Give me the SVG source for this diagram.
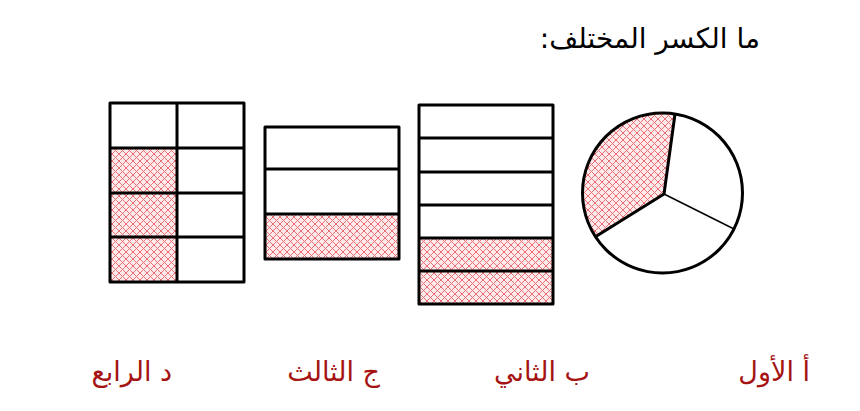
<svg xmlns="http://www.w3.org/2000/svg" width="860" height="411" viewBox="0 0 860 411">
<style>
.box{fill:none;stroke:#000;stroke-width:3;stroke-linejoin:round}
.ln{stroke:#000;stroke-width:3}
.hatch{fill:url(#hatch)}
.lbl{font-family:"DejaVu Sans",sans-serif;font-size:27px;fill:#a51313}
.ttl{font-family:"DejaVu Sans",sans-serif;font-size:28px;fill:#000}
</style>
<defs>
<pattern id="hatch" width="7" height="7" patternUnits="userSpaceOnUse">
<rect width="7" height="7" fill="#fdeaea"/>
<path d="M0,0 L7,7 M7,0 L0,7" stroke="#ea6d76" stroke-width="1"/>
</pattern>
</defs>
<rect width="860" height="411" fill="#fff"/>
<text class="ttl" x="760" y="48" direction="rtl" text-anchor="start">ما الكسر المختلف:</text>

<g id="d-fourth">
<rect class="hatch" x="110" y="148" width="67" height="134"/>
<rect class="box" x="110" y="103" width="134" height="179"/>
<line class="ln" x1="177" y1="103" x2="177" y2="282"/>
<line class="ln" x1="110" y1="148" x2="244" y2="148"/>
<line class="ln" x1="110" y1="193" x2="244" y2="193"/>
<line class="ln" x1="110" y1="237" x2="244" y2="237"/>
</g>

<g id="c-third">
<rect class="hatch" x="265" y="214" width="134" height="45"/>
<rect class="box" x="265" y="127" width="134" height="132"/>
<line class="ln" x1="265" y1="169" x2="399" y2="169"/>
<line class="ln" x1="265" y1="214" x2="399" y2="214"/>
</g>

<g id="b-second">
<rect class="hatch" x="419" y="238" width="134" height="66"/>
<rect class="box" x="419" y="105" width="134" height="199"/>
<line class="ln" x1="419" y1="138" x2="553" y2="138"/>
<line class="ln" x1="419" y1="172" x2="553" y2="172"/>
<line class="ln" x1="419" y1="205" x2="553" y2="205"/>
<line class="ln" x1="419" y1="238" x2="553" y2="238"/>
<line class="ln" x1="419" y1="271" x2="553" y2="271"/>
</g>

<g id="a-first">
<path class="hatch" d="M664,194 L675,114 A80,80 0 0 0 595,237 Z"/>
<circle cx="662.5" cy="193" r="80" fill="none" stroke="#000" stroke-width="3"/>
<polyline points="675,114 664,194 595,237" fill="none" stroke="#000" stroke-width="3" stroke-linejoin="round"/>
<line x1="664" y1="194" x2="734" y2="229" stroke="#000" stroke-width="1.5"/>
</g>

<g id="labels">
<text class="lbl" x="810" y="381" direction="rtl" text-anchor="start">أ الأول</text>
<text class="lbl" x="590" y="381" direction="rtl" text-anchor="start">ب الثاني</text>
<text class="lbl" x="380" y="381" direction="rtl" text-anchor="start">ج الثالث</text>
<text class="lbl" x="172" y="381" direction="rtl" text-anchor="start">د الرابع</text>
</g>
</svg>
